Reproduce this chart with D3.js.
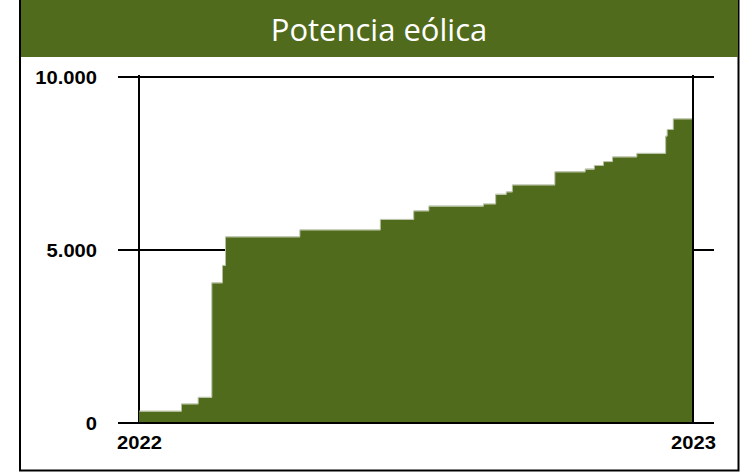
<!DOCTYPE html>
<html>
<head>
<meta charset="utf-8">
<script src="https://cdn.jsdelivr.net/npm/d3@7"></script>
<style>
  body { margin: 0; background: #fff; }
  svg { display: block; }
</style>
</head>
<body>
<svg id="chart" width="753" height="472"></svg>
<script>
// Installed wind power, cumulative (MW) — one entry per step change
const chartTitle = "Potencia eólica";
const stepDates = [
  "2022-01-01", "2022-01-29", "2022-02-09", "2022-02-18", "2022-02-25",
  "2022-02-27", "2022-04-17", "2022-06-09", "2022-07-01", "2022-07-11",
  "2022-08-16", "2022-08-24", "2022-08-31", "2022-09-04", "2022-10-02",
  "2022-10-22", "2022-10-28", "2022-11-03", "2022-11-09", "2022-11-25",
  "2022-12-14", "2022-12-15", "2022-12-19"
];
const stepValues = [
  330, 540, 730, 4040, 4540,
  5370, 5570, 5870, 6120, 6260,
  6320, 6600, 6670, 6870, 7250,
  7330, 7430, 7540, 7680, 7780,
  8280, 8470, 8780
];
const yTickValues = [0, 5000, 10000];
const xTickDates = ["2022-01-01", "2023-01-01"];
const xTickLabels = ["2022", "2023"];
const xDomain = ["2022-01-01", "2023-01-01"];

const green = "#516b1d";
const parse = d3.utcParse("%Y-%m-%d");
const locale = d3.formatLocale({ decimal: ",", thousands: ".", grouping: [3], currency: ["", " €"] });
const fmt = locale.format(",d");

const svg = d3.select("#chart");

// Outer frame and title band
svg.append("rect")
  .attr("x", 20).attr("y", -5).attr("width", 718.5).attr("height", 475.5)
  .attr("fill", "#fff").attr("stroke", "#000").attr("stroke-width", 2);
svg.append("rect")
  .attr("x", 21).attr("y", 0).attr("width", 717).attr("height", 57)
  .attr("fill", green);
svg.append("text")
  .attr("x", 379).attr("y", 41)
  .attr("text-anchor", "middle")
  .attr("fill", "#fff")
  .style("font-family", "'Open Sans', sans-serif")
  .style("font-size", "31px")
  .text(chartTitle);

const plot = { left: 139, right: 693, top: 77, bottom: 423 };

const x = d3.scaleUtc()
  .domain(xDomain.map(parse))
  .range([plot.left, plot.right]);
const y = d3.scaleLinear()
  .domain([0, 10000])
  .range([plot.bottom, plot.top]);

// Horizontal grid lines reaching past the plot on both sides
const ext = 21;
svg.append("g")
  .selectAll("line")
  .data(yTickValues.filter(v => v > 0))
  .join("line")
  .attr("x1", plot.left - ext).attr("x2", plot.right + ext)
  .attr("y1", d => y(d)).attr("y2", d => y(d))
  .attr("stroke", "#000").attr("stroke-width", 2);

// Left frame of the plot
svg.append("line")
  .attr("x1", plot.left).attr("x2", plot.left)
  .attr("y1", plot.top - 2).attr("y2", plot.bottom)
  .attr("stroke", "#000").attr("stroke-width", 2);

// Step area
const series = stepDates.map((d, i) => ({ date: parse(d), value: stepValues[i] }));
series.push({ date: parse(xDomain[1]), value: stepValues[stepValues.length - 1] });

const area = d3.area()
  .curve(d3.curveStepAfter)
  .x(d => x(d.date))
  .y0(y(0))
  .y1(d => y(d.value));
const topLine = d3.line()
  .curve(d3.curveStepAfter)
  .x(d => x(d.date))
  .y(d => y(d.value));

svg.append("path")
  .datum(series)
  .attr("d", area)
  .attr("fill", green);
svg.append("path")
  .datum(series)
  .attr("d", topLine)
  .attr("fill", "none")
  .attr("stroke", "#b4bea0")
  .attr("stroke-width", 1)
  .attr("transform", "translate(0,-0.5)");

// Right frame and baseline on top
svg.append("line")
  .attr("x1", plot.right).attr("x2", plot.right)
  .attr("y1", plot.top - 2).attr("y2", plot.bottom)
  .attr("stroke", "#000").attr("stroke-width", 2);
svg.append("line")
  .attr("x1", plot.left - ext).attr("x2", plot.right + ext)
  .attr("y1", y(0)).attr("y2", y(0))
  .attr("stroke", "#000").attr("stroke-width", 2);

// Axis labels (wide bold sans)
const labelStyle = sel => sel
  .style("font-family", "'Liberation Sans', Arial, sans-serif")
  .style("font-weight", "bold")
  .style("font-size", "18px")
  .attr("fill", "#000");

const widen = function () {
  const w = this.getComputedTextLength();
  d3.select(this).attr("textLength", w * 1.12).attr("lengthAdjust", "spacingAndGlyphs");
};

const yAxis = d3.axisLeft(y).tickValues(yTickValues).tickFormat(fmt).tickSize(0).tickPadding(0);
const gy = svg.append("g").attr("transform", `translate(97,0)`).call(yAxis);
gy.select(".domain").remove();
gy.selectAll("text").call(labelStyle).attr("dy", "0.36em").each(widen);

const xAxis = d3.axisBottom(x)
  .tickValues(xTickDates.map(parse))
  .tickFormat((d, i) => xTickLabels[i])
  .tickSize(0).tickPadding(0);
const gx = svg.append("g").attr("transform", `translate(0,${plot.bottom + 13})`).call(xAxis);
gx.select(".domain").remove();
gx.selectAll("text").call(labelStyle).attr("dy", "0.71em").each(widen);
</script>
</body>
</html>
